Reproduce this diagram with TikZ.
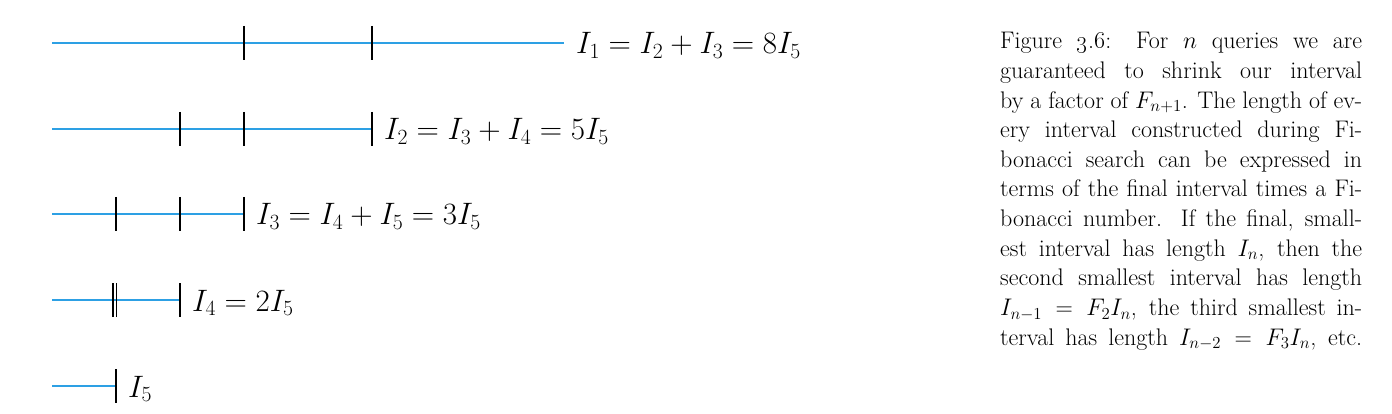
\RequirePackage{fix-cm}
\documentclass[tikz,border=0pt]{standalone}
\usepackage{amsmath}
\usepackage{graphicx}
\definecolor{ivblue}{RGB}{45,160,228}
\tikzset{
  interval/.style={draw=ivblue, line width=2.1pt},
  tickline/.style={draw=black, line width=1.4pt},
  ivlabel/.style={anchor=base west, inner sep=0pt, font=\fontsize{31}{36}\selectfont},
  capline/.style={anchor=base west, inner sep=0pt, font=\fontsize{24}{29.6}\selectfont},
}
\newsavebox{\capbox}
\newcommand{\capw}[1]{\sbox{\capbox}{#1}\ifdim\wd\capbox>368pt\relax\resizebox{362pt}{\height}{\usebox{\capbox}}\else\makebox[362pt][s]{#1}\fi}
\begin{document}
\begin{tikzpicture}[x=1pt,y=-1pt]
\useasboundingbox (0,0) rectangle (1392,414);
% row 1
\coordinate (r1s) at (52,43);
\coordinate (r1e) at (564,43);
\coordinate (t1a) at (244,43);
\coordinate (t1b) at (372,43);
\draw[interval] (r1s) -- (r1e);
\draw[tickline] (t1a) ++(0,-17) -- ++(0,34);
\draw[tickline] (t1b) ++(0,-17) -- ++(0,34);
\node[ivlabel] (l1) at ([xshift=12pt,yshift=-11pt]r1e) {$I_1 = I_2 + I_3 = 8I_5$};
% row 2
\coordinate (r2s) at (52,129);
\coordinate (r2e) at (372,129);
\coordinate (t2a) at (180,129);
\coordinate (t2b) at (244,129);
\draw[interval] (r2s) -- (r2e);
\draw[tickline] (t2a) ++(0,-17) -- ++(0,34);
\draw[tickline] (t2b) ++(0,-17) -- ++(0,34);
\draw[tickline] (r2e) ++(0,-17) -- ++(0,34);
\node[ivlabel] (l2) at ([xshift=12pt,yshift=-11pt]r2e) {$I_2 = I_3 + I_4 = 5I_5$};
% row 3
\coordinate (r3s) at (52,214);
\coordinate (r3e) at (244,214);
\coordinate (t3a) at (116,214);
\coordinate (t3b) at (180,214);
\draw[interval] (r3s) -- (r3e);
\draw[tickline] (t3a) ++(0,-17) -- ++(0,34);
\draw[tickline] (t3b) ++(0,-17) -- ++(0,34);
\draw[tickline] (r3e) ++(0,-17) -- ++(0,34);
\node[ivlabel] (l3) at ([xshift=12pt,yshift=-11pt]r3e) {$I_3 = I_4 + I_5 = 3I_5$};
% row 4
\coordinate (r4s) at (52,300);
\coordinate (r4e) at (180,300);
\coordinate (t4a) at (113,300);
\coordinate (t4b) at (116.5,300);
\draw[interval] (r4s) -- (r4e);
\draw[tickline] (t4a) ++(0,-17) -- ++(0,34);
\draw[tickline] (t4b) ++(0,-17) -- ++(0,34);
\draw[tickline] (r4e) ++(0,-17) -- ++(0,34);
\node[ivlabel] (l4) at ([xshift=12pt,yshift=-11pt]r4e) {$I_4 = 2I_5$};
% row 5
\coordinate (r5s) at (52,386);
\coordinate (r5e) at (116,386);
\draw[interval] (r5s) -- (r5e);
\draw[tickline] (r5e) ++(0,-17) -- ++(0,34);
\node[ivlabel] (l5) at ([xshift=12pt,yshift=-11pt]r5e) {$I_5$};
% caption
\node[capline] (c1) at (1000,49.0) {\capw{Figure \oldstylenums{3}.\oldstylenums{6}: For $n$ queries we are}};
\node[capline] (c2) at (1000,78.6) {\capw{guaranteed to shrink our interval}};
\node[capline] (c3) at (1000,108.2) {\capw{by a factor of $F_{n+1}$. The length of ev-}};
\node[capline] (c4) at (1000,137.8) {\capw{ery interval constructed during Fi-}};
\node[capline] (c5) at (1000,167.4) {\capw{bonacci search can be expressed in}};
\node[capline] (c6) at (1000,197.0) {\capw{terms of the final interval times a Fi-}};
\node[capline] (c7) at (1000,226.6) {\capw{bonacci number. If the final, small-}};
\node[capline] (c8) at (1000,256.2) {\capw{est interval has length $I_n$, then the}};
\node[capline] (c9) at (1000,285.8) {\capw{second smallest interval has length}};
\node[capline] (c10) at (1000,315.4) {\capw{$I_{n-1} = F_2 I_n$, the third smallest in-}};
\node[capline] (c11) at (1000,345.0) {\capw{terval has length $I_{n-2} = F_3 I_n$, etc.}};
\end{tikzpicture}
\end{document}
